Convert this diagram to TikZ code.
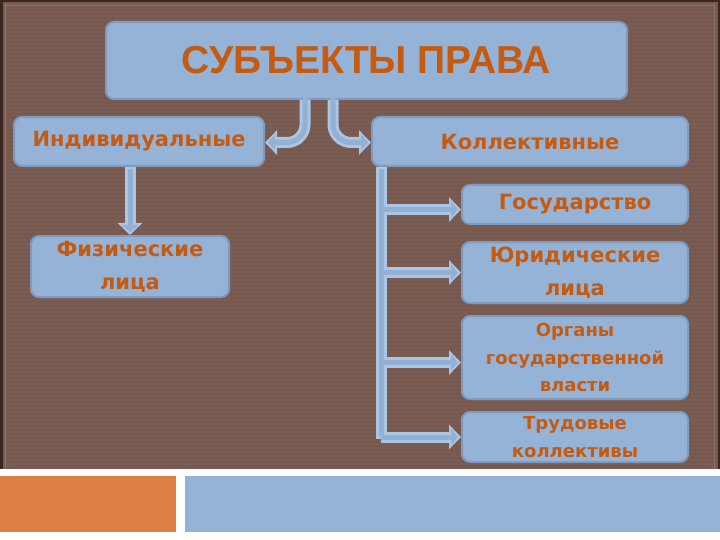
\documentclass[tikz,border=0pt]{standalone}
\usepackage{fontspec}
\setmainfont{DejaVu Sans}
\newfontfamily\titlefont{Liberation Sans}
\usetikzlibrary{arrows.meta}
\definecolor{bg}{HTML}{7A5C52}
\definecolor{bgdark}{HTML}{6E5248}
\definecolor{edge}{HTML}{3A2820}
\definecolor{edgelight}{HTML}{8E7268}
\definecolor{boxfill}{HTML}{95B3D7}
\definecolor{boxline}{HTML}{7F9CC0}
\definecolor{arrout}{HTML}{ABC6E4}
\definecolor{arrin}{HTML}{93B1D5}
\definecolor{txt}{HTML}{C55A11}
\definecolor{orangebar}{HTML}{DD8043}
\begin{document}
\begin{tikzpicture}[x=1pt,y=-1pt,
  box/.style={draw=boxline, line width=2pt, fill=boxfill, rounded corners=8pt,
    inner sep=0pt, text=txt, align=center},
  mid/.style={font=\bfseries\fontsize{21}{33}\selectfont},
  small/.style={font=\bfseries\fontsize{18}{27.5}\selectfont},
  connout/.style={draw=arrout, line width=11pt, -{Triangle[width=24pt,length=12pt]}},
  connin/.style={draw=arrin, line width=5pt, shorten >=3pt, -{Triangle[width=16pt,length=7pt]}},
  barout/.style={draw=arrout, line width=11pt},
  barin/.style={draw=arrin, line width=5pt},
]
\useasboundingbox (0,0) rectangle (720,540);
% background
\fill[bg] (0,0) rectangle (720,469);
\foreach \yy in {2,6,...,466} \draw[bgdark, line width=1.2pt, opacity=0.25] (0,\yy) -- (720,\yy);
\draw[edge, line width=3pt] (1.5,0) -- (1.5,469);
\draw[edge, line width=2pt] (718.5,0) -- (718.5,469);
\draw[edge, line width=2pt] (0,1) -- (720,1);
\draw[edgelight, line width=0.8pt] (5,4) -- (5,469);
\draw[edgelight, line width=0.8pt] (714,4) -- (714,469);
\draw[edgelight, line width=0.8pt] (4,5) -- (715,5);
\fill[white] (0,469) rectangle (720,540);
\fill[orangebar] (0,476) rectangle (176,532);
\fill[boxfill] (185,476) rectangle (720,532);

% nodes
\node[box, minimum width=521pt, minimum height=77pt, font=\titlefont\bfseries\fontsize{39}{42}\selectfont] (title) at (366.5,60.5) {СУБЪЕКТЫ ПРАВА};
\node[box, mid, minimum width=250pt, minimum height=49pt] (ind) at (139,141.5) {Индивидуальные};
\node[box, mid, minimum width=316pt, minimum height=49pt] (koll) at (530,141.5) {Коллективные};
\node[box, mid, minimum width=226pt, minimum height=39pt] (gos) at (575,204.5) {Государство};
\node[box, mid, minimum width=226pt, minimum height=61pt] (yur) at (575,272.5) {Юридические\\лица};
\node[box, small, minimum width=226pt, minimum height=83pt] (org) at (575,357.5) {Органы\\государственной\\власти};
\node[box, small, minimum width=226pt, minimum height=50pt] (trud) at (575,437) {Трудовые\\коллективы};
\node[box, mid, minimum width=198pt, minimum height=61pt] (fiz) at (130,266.5) {Физические\\лица};

\coordinate (bartop) at ([xshift=10pt]koll.south west);
\coordinate (barbot) at ([xshift=10pt,yshift=-272pt]koll.south west);

% outlines
\draw[connout, rounded corners=18pt] ([xshift=-61.5pt]title.south) |- ([yshift=-1pt]ind.east);
\draw[connout, rounded corners=18pt] ([xshift=-33.5pt]title.south) |- ([yshift=-1pt]koll.west);
\draw[connout] (fiz.north |- ind.south) -- (fiz.north);
\draw[barout] (bartop) -- (barbot);
\draw[connout] ([yshift=-5pt]gos.west -| bartop) -- ([yshift=-5pt]gos.west);
\draw[connout] (yur.west -| bartop) -- (yur.west);
\draw[connout] ([yshift=-5pt]org.west -| bartop) -- ([yshift=-5pt]org.west);
\draw[connout] (trud.west -| bartop) -- (trud.west);
% inner
\draw[connin, rounded corners=18pt] ([xshift=-61.5pt,yshift=2pt]title.south) |- ([yshift=-1pt]ind.east);
\draw[connin, rounded corners=18pt] ([xshift=-33.5pt,yshift=2pt]title.south) |- ([yshift=-1pt]koll.west);
\draw[connin] ([yshift=-2pt]fiz.north |- ind.south) -- (fiz.north);
\draw[barin] ([yshift=-2pt]bartop) -- ([yshift=3pt]barbot);
\draw[connin] ([yshift=-5pt]gos.west -| bartop) -- ([yshift=-5pt]gos.west);
\draw[connin] (yur.west -| bartop) -- (yur.west);
\draw[connin] ([yshift=-5pt]org.west -| bartop) -- ([yshift=-5pt]org.west);
\draw[connin] (trud.west -| bartop) -- (trud.west);
\end{tikzpicture}
\end{document}
